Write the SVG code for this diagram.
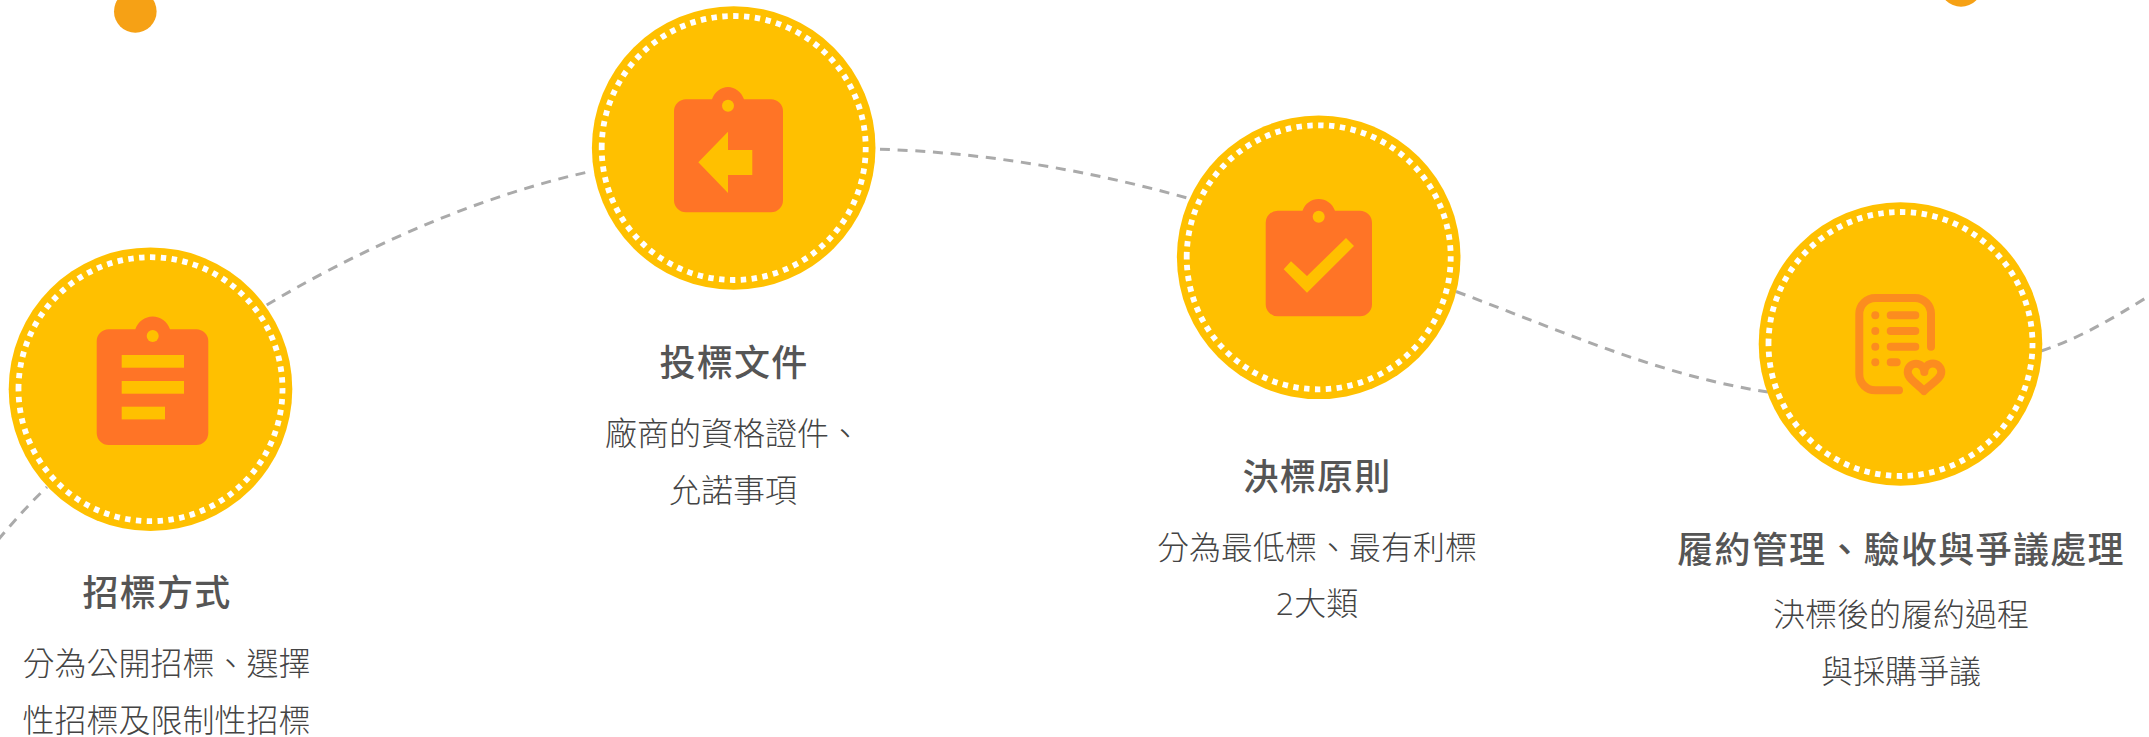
<svg xmlns="http://www.w3.org/2000/svg" width="2149" height="737" viewBox="0 0 2149 737">
<style>
.disc{fill:#FFC000}
.ring{fill:none;stroke:#fff;stroke-width:5.8;stroke-dasharray:5.4 5.48}
.ico{fill:#FF7426;fill-rule:evenodd}
.cut{fill:#FFC000}
.line{fill:none;stroke:#aaa;stroke-width:3;stroke-dasharray:10 7.7}
.o4{fill:none;stroke:#FC8C1F;stroke-width:8;stroke-linecap:round;stroke-linejoin:round}
.d4{fill:#FC8C1F}
.dot{fill:#F6A115}
text{font-family:"Open Sans","Noto Sans CJK TC",sans-serif;text-anchor:middle;fill:#555}
.t{font-size:36px;font-weight:500;letter-spacing:1.3px}
.b{font-size:32px;font-weight:300;fill:#444}
</style>
<rect width="2149" height="737" fill="#fff"/>
<g id="connectors">
<path class="line" d="M-2,540 C14,521 30,503 47,487"/>
<path class="line" d="M266.7,305 C350,255 470,198 588,172"/>
<path class="line" d="M880,149.3 C980,152 1090,170 1194,200"/>
<path class="line" d="M1456,291.5 C1560,330 1660,376 1768,392"/>
<path class="line" d="M2041,351 C2080,338 2110,320 2149,296"/>
</g>
<circle id="dot-left" class="dot" cx="135.3" cy="11.4" r="21.3"/>
<circle id="dot-right" class="dot" cx="1961" cy="-14.6" r="21.3"/>
<g id="node-1">
<circle class="disc" cx="150.5" cy="389.2" r="141.8"/>
<circle class="ring" cx="150.5" cy="389.2" r="132" transform="rotate(180 150.5 389.2)"/>
<path class="ico" d="M108.7,329.3H135.3C138,321.5 145,316.5 152.7,316.5C160.4,316.5 167.4,321.5 170,329.3H196.3A12,12 0 0 1 208.3,341.3V433A12,12 0 0 1 196.3,445H108.7A12,12 0 0 1 96.7,433V341.3A12,12 0 0 1 108.7,329.3Z"/>
<circle class="cut" cx="152.7" cy="336" r="6"/>
<rect class="cut" x="121.7" y="355" width="62.3" height="12.7"/>
<rect class="cut" x="121.7" y="381" width="62.3" height="12.7"/>
<rect class="cut" x="121.7" y="406.7" width="43.3" height="12.7"/>
<text class="t" x="157" y="606">招標方式</text>
<text class="b" x="166.5" y="675">分為公開招標、選擇</text>
<text class="b" x="166.5" y="732">性招標及限制性招標</text>
</g>
<g id="node-2">
<circle class="disc" cx="733.7" cy="148" r="141.8"/>
<circle class="ring" cx="733.7" cy="148" r="132" transform="rotate(180 733.7 148)"/>
<path class="ico" d="M686,99.3H712C714.5,92 721,87 728,87C735,87 741.5,92 744,99.3H771A12,12 0 0 1 783,111.3V200.3A12,12 0 0 1 771,212.3H686A12,12 0 0 1 674,200.3V111.3A12,12 0 0 1 686,99.3Z"/>
<circle class="cut" cx="728" cy="105.7" r="6"/>
<path class="cut" d="M698.3,162.3L728,131.7V150H752.3V175H728V193Z"/>
<text class="t" x="734" y="376">投標文件</text>
<text class="b" x="733" y="445">廠商的資格證件、</text>
<text class="b" x="733" y="502">允諾事項</text>
</g>
<g id="node-3">
<circle class="disc" cx="1318.7" cy="257.3" r="141.8"/>
<circle class="ring" cx="1318.7" cy="257.3" r="132" transform="rotate(180 1318.7 257.3)"/>
<path class="ico" d="M1277.7,210.7H1302.5C1305,203.5 1311.5,199 1318.7,199C1325.9,199 1332.4,203.5 1335,210.7H1360A12,12 0 0 1 1372,222.7V304.3A12,12 0 0 1 1360,316.3H1277.7A12,12 0 0 1 1265.7,304.3V222.7A12,12 0 0 1 1277.7,210.7Z"/>
<circle class="cut" cx="1318.7" cy="216.7" r="6"/>
<path class="cut" d="M1283.7,269.3L1291,261.3L1307,276L1346,238L1354,246L1307,292.7Z"/>
<text class="t" x="1317" y="490">決標原則</text>
<text class="b" x="1317" y="559">分為最低標、最有利標</text>
<text class="b" x="1317" y="615">2大類</text>
</g>
<g id="node-4">
<circle class="disc" cx="1900.5" cy="344" r="141.8"/>
<circle class="ring" cx="1900.5" cy="344" r="132" transform="rotate(180 1900.5 344)"/>
<path class="o4" d="M1931,346.7V314A16,16 0 0 0 1915,298H1875.3A16,16 0 0 0 1859.3,314V374.3A16,16 0 0 0 1875.3,390.3H1899"/>
<circle class="d4" cx="1875.3" cy="315.3" r="4"/>
<circle class="d4" cx="1875.3" cy="331" r="4"/>
<circle class="d4" cx="1875.3" cy="346.7" r="4"/>
<circle class="d4" cx="1875.3" cy="362.3" r="4"/>
<path class="o4" d="M1890.7,315.3H1915.3M1890.7,331H1915.3M1890.7,346.7H1915.3M1890.7,362.3H1896.7"/>
<path class="o4" d="M1907.7,372a8.3,8.3 0 0 1 16.6,0a8.5,8.5 0 0 1 17,0c0,7 -11,12 -17.4,19c-6,-7 -16.2,-12 -16.2,-19z"/>
<text class="t" x="1901" y="563">履約管理、驗收與爭議處理</text>
<text class="b" x="1901" y="626">決標後的履約過程</text>
<text class="b" x="1901" y="683">與採購爭議</text>
</g>
</svg>
